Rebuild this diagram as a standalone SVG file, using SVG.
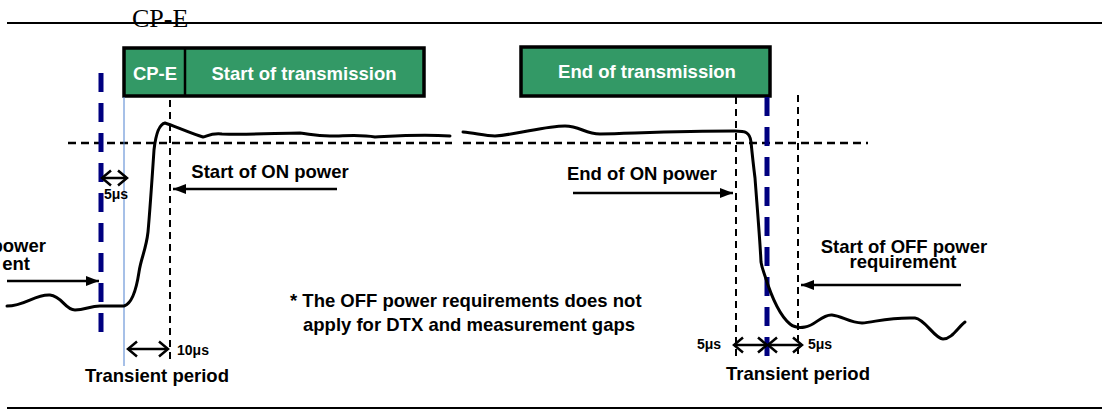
<svg xmlns="http://www.w3.org/2000/svg" width="1102" height="411" viewBox="0 0 1102 411">
<style>
.t{font-family:"Liberation Sans",Arial,sans-serif;font-weight:bold;font-size:18.5px;fill:#000}
.s{font-family:"Liberation Sans",Arial,sans-serif;font-weight:bold;font-size:14px;fill:#000}
.w{font-family:"Liberation Sans",Arial,sans-serif;font-weight:bold;font-size:18.5px;fill:#fff}
.box{fill:#339966;stroke:#000;stroke-width:3.5}
.hd{stroke:#000;stroke-width:2.5;stroke-dasharray:8 5;fill:none}
.vd{stroke:#000;stroke-width:2;stroke-dasharray:7 5;fill:none}
.bd{stroke:#000080;stroke-width:5;stroke-dasharray:19 11;fill:none}
.ar{stroke:#000;stroke-width:2.5;fill:none}
.wave{stroke:#000;stroke-width:3;fill:none;stroke-linejoin:round;stroke-linecap:round}
</style>
<defs>
<marker id="tri" viewBox="0 0 13 10" refX="13" refY="5" markerUnits="userSpaceOnUse" markerWidth="13" markerHeight="10" orient="auto-start-reverse"><path d="M0,0 L13,5 L0,10 z" fill="#000"/></marker>
<marker id="chev" viewBox="0 0 12 18" refX="10" refY="9" markerUnits="userSpaceOnUse" markerWidth="12" markerHeight="18" orient="auto-start-reverse"><path d="M1,1.5 L10,9 L1,16.5" fill="none" stroke="#000" stroke-width="2.5"/></marker>
</defs>
<rect width="1102" height="411" fill="#fff"/>
<g id="frame">
<line x1="7" y1="23" x2="1102" y2="23" stroke="#000" stroke-width="2"/>
<line x1="7" y1="408" x2="1102" y2="408" stroke="#000" stroke-width="2"/>
<text x="132" y="26.5" font-family="'Liberation Serif','Times New Roman',serif" font-size="26" fill="#000">CP-E</text>
</g>
<g id="start-box">
<rect class="box" x="124" y="48" width="300" height="48"/>
<line x1="185" y1="48" x2="185" y2="96" stroke="#000" stroke-width="2.5"/>
<text class="w" x="155" y="80" text-anchor="middle">CP-E</text>
<text class="w" x="304" y="80" text-anchor="middle">Start of transmission</text>
</g>
<g id="end-box">
<rect class="box" x="521" y="47" width="249" height="49"/>
<text class="w" x="647" y="78" text-anchor="middle">End of transmission</text>
</g>
<g id="guides">
<line class="hd" x1="68" y1="143" x2="452" y2="143"/>
<line class="hd" x1="463" y1="143" x2="868" y2="143"/>
<line class="bd" x1="101" y1="73" x2="101" y2="336"/>
<line x1="124" y1="97" x2="124" y2="366" stroke="#4f81d0" stroke-width="1"/>
<line class="vd" x1="170" y1="100" x2="170" y2="363"/>
<line class="vd" x1="736" y1="97" x2="736" y2="358"/>
<line class="bd" x1="767" y1="97" x2="767" y2="358"/>
<line class="vd" x1="798" y1="95" x2="798" y2="358"/>
</g>
<g id="power-curve">
<path class="wave" d="M7,306 C25,306 35,294 50,295 C62,296 65,310 75,310 C85,310 90,306 100,306 L124,306 C131,304 136,292 139,272 C141,258 146,250 148,232 C150,210 152,180 154,150 C156,132 160,124 165,123 C172,125 192,134 203,137 C208,136 210,133 222,134 C250,135 280,133 300,133 C310,134 315,136 330,136 C345,136 360,134 375,137 C395,136 420,134 450,136"/>
<path class="wave" d="M463,132 C475,133 485,136 495,136 C520,134 545,126 565,126 C580,126 585,134 600,134 C640,133 680,131 735,131 C745,131 750,132 751,142 C752,152 753,162 755,178 C757,205 760,240 761,262 C762,268 763,270 765,276 C770,292 779,315 790,324 C795,328 800,328 805,327 C815,326 822,314 832,315 C842,316 850,323 862,323 C875,322 890,317 915,318 C925,319 935,339 943,339 C952,339 958,327 965,322"/>
</g>
<g id="connectors">
<line class="ar" x1="102" y1="178" x2="127" y2="178" marker-start="url(#chev)" marker-end="url(#chev)"/>
<line class="ar" x1="128" y1="349" x2="168" y2="349" marker-start="url(#chev)" marker-end="url(#chev)"/>
<line class="ar" x1="337" y1="189" x2="173" y2="189" marker-end="url(#tri)"/>
<line class="ar" x1="7" y1="281" x2="99" y2="281" marker-end="url(#tri)"/>
<line class="ar" x1="573" y1="193" x2="733" y2="193" marker-end="url(#tri)"/>
<line class="ar" x1="961" y1="285" x2="801" y2="285" marker-end="url(#tri)"/>
<line class="ar" x1="734" y1="345" x2="767" y2="345" marker-start="url(#chev)" marker-end="url(#chev)"/>
<line class="ar" x1="768" y1="345" x2="802" y2="345" marker-start="url(#chev)" marker-end="url(#chev)"/>
</g>
<g id="labels">
<text class="s" x="104" y="199">5μs</text>
<text class="s" x="177" y="355">10μs</text>
<text class="t" x="270" y="178" text-anchor="middle">Start of ON power</text>
<text class="t" x="46" y="252" text-anchor="end">power</text>
<text class="t" x="30" y="270" text-anchor="end">ent</text>
<text class="t" x="157" y="382" text-anchor="middle">Transient period</text>
<text class="t" x="290" y="307">* The OFF power requirements does not</text>
<text class="t" x="303" y="331">apply for DTX and measurement gaps</text>
<text class="t" x="642" y="180" text-anchor="middle">End of ON power</text>
<text class="t" x="904" y="253" text-anchor="middle">Start of OFF power</text>
<text class="t" x="903" y="268" text-anchor="middle">requirement</text>
<text class="s" x="697" y="349">5μs</text>
<text class="s" x="808" y="349">5μs</text>
<text class="t" x="798" y="380" text-anchor="middle">Transient period</text>
</g>
</svg>
